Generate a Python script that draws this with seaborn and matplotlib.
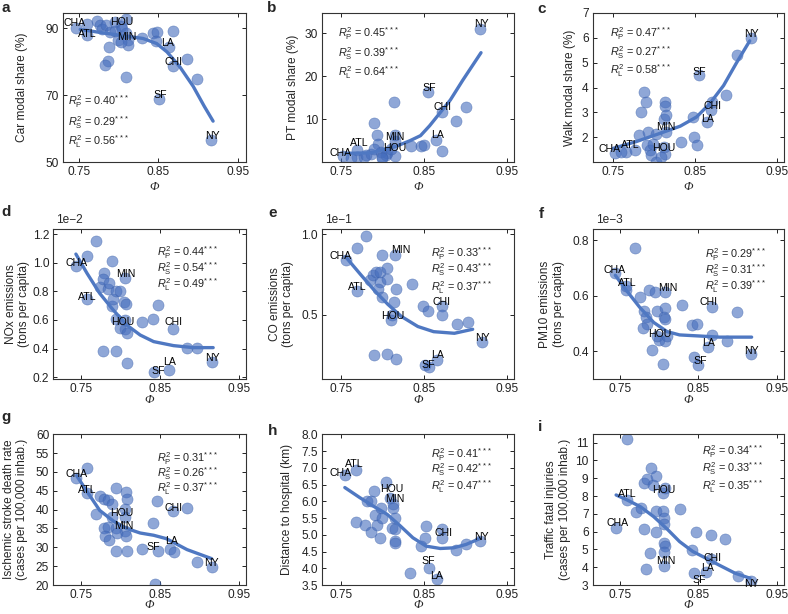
import numpy as np
import pandas as pd
import matplotlib as mpl
mpl.use('Agg')
import matplotlib.pyplot as plt
import seaborn as sns


# The eight labelled cities come first in every panel, in this order.
CITIES = ['CHA', 'ATL', 'HOU', 'MIN', 'LA', 'CHI', 'SF', 'NY']

# a: car modal share (%)
a_phi = [0.747, 0.761, 0.803, 0.812, 0.863, 0.868, 0.851, 0.916,
         0.761, 0.773, 0.777, 0.780, 0.784, 0.789, 0.796, 0.796, 0.799, 0.810, 0.810,
         0.812, 0.810, 0.788, 0.787, 0.783, 0.830, 0.844, 0.849, 0.847, 0.868, 0.886,
         0.899, 0.803, 0.805]
a_car = [90.2, 88.0, 90.8, 86.5, 84.4, 78.9, 69.0, 56.8,
         91.3, 92.3, 91.0, 89.8, 91.0, 89.0, 91.8, 89.2, 86.4, 92.8, 88.6,
         85.0, 75.6, 84.6, 80.4, 79.1, 87.2, 88.7, 89.0, 86.2, 89.2, 80.9,
         75.0, 86.0, 89.8]
a_fit_phi = [0.752, 0.777, 0.810, 0.831, 0.848, 0.861, 0.877, 0.894, 0.908, 0.919]
a_fit = [89.7, 88.8, 87.7, 87.0, 85.5, 83.0, 78.6, 72.7, 66.7, 62.3]

# b: public transport modal share (%)
b_phi = [0.753, 0.769, 0.806, 0.815, 0.865, 0.872, 0.855, 0.918,
         0.769, 0.778, 0.786, 0.790, 0.794, 0.795, 0.798, 0.799, 0.804, 0.814, 0.815,
         0.815, 0.834, 0.847, 0.850, 0.872, 0.889, 0.901, 0.790, 0.780, 0.810, 0.800,
         0.762]
b_pt = [1.5, 2.9, 2.2, 4.9, 5.3, 11.8, 16.4, 30.9,
        1.2, 1.3, 1.9, 9.2, 6.4, 4.3, 2.5, 1.3, 1.7, 14.0, 6.4,
        1.5, 3.8, 3.8, 4.0, 2.7, 9.7, 12.9, 3.0, 1.8, 3.2, 1.0,
        1.0]
b_fit_phi = [0.756, 0.786, 0.815, 0.833, 0.846, 0.857, 0.867, 0.882, 0.897, 0.919]
b_fit = [2.1, 2.2, 3.6, 5.0, 6.2, 8.5, 10.9, 14.5, 19.1, 25.5]

# c: walk modal share (%)
c_phi = [0.752, 0.766, 0.813, 0.814, 0.865, 0.870, 0.855, 0.919,
         0.776, 0.781, 0.784, 0.787, 0.790, 0.791, 0.792, 0.795, 0.796, 0.798, 0.802,
         0.802, 0.812, 0.813, 0.813, 0.814, 0.812, 0.809, 0.833, 0.847, 0.849, 0.852,
         0.871, 0.888, 0.901, 0.760]
c_walk = [1.39, 1.43, 1.35, 2.20, 2.60, 3.10, 4.50, 6.00,
          1.50, 2.10, 3.00, 3.80, 3.40, 1.70, 2.20, 1.50, 1.30, 1.75, 1.00,
          2.15, 2.73, 3.40, 3.25, 2.90, 1.63, 1.20, 1.80, 2.80, 2.00, 1.70,
          3.40, 3.70, 5.30, 1.40]
c_fit_phi = [0.750, 0.778, 0.807, 0.832, 0.852, 0.868, 0.885, 0.901, 0.917]
c_fit = [1.56, 1.83, 2.16, 2.45, 2.82, 3.35, 4.08, 5.00, 5.87]

# d: NOx emissions (1e-2 tons per capita)
d_phi = [0.744, 0.758, 0.806, 0.806, 0.861, 0.866, 0.843, 0.915,
         0.758, 0.769, 0.774, 0.779, 0.778, 0.784, 0.786, 0.790, 0.789, 0.791, 0.795,
         0.795, 0.800, 0.805, 0.807, 0.806, 0.778, 0.795, 0.809, 0.827, 0.841, 0.847,
         0.884, 0.897, 0.808, 0.800]
d_nox = [0.977, 0.747, 0.540, 0.890, 0.250, 0.540, 0.240, 0.310,
         1.047, 1.153, 0.828, 0.930, 0.884, 0.814, 0.860, 1.014, 0.698, 0.744, 0.805,
         0.605, 0.542, 0.728, 0.712, 0.600, 0.386, 0.386, 0.298, 0.588, 0.605, 0.705,
         0.407, 0.402, 0.510, 0.800]
d_fit_phi = [0.744, 0.758, 0.774, 0.791, 0.808, 0.825, 0.842, 0.867, 0.892, 0.917]
d_fit = [1.060, 0.926, 0.786, 0.670, 0.565, 0.495, 0.449, 0.421, 0.407, 0.407]

# e: CO emissions (1e-1 tons per capita)
e_phi = [0.756, 0.770, 0.812, 0.816, 0.866, 0.872, 0.851, 0.920,
         0.770, 0.781, 0.785, 0.789, 0.793, 0.797, 0.797, 0.795, 0.800, 0.800, 0.806,
         0.806, 0.817, 0.814, 0.811, 0.836, 0.849, 0.855, 0.872, 0.890, 0.903, 0.790,
         0.806, 0.817, 0.857]
e_co = [0.842, 0.648, 0.500, 0.869, 0.215, 0.553, 0.188, 0.327,
        0.916, 0.989, 0.717, 0.749, 0.764, 0.764, 0.700, 0.658, 0.610, 0.869, 0.789,
        0.722, 0.658, 0.580, 0.468, 0.690, 0.553, 0.521, 0.500, 0.443, 0.454, 0.251,
        0.257, 0.226, 0.173]
e_fit_phi = [0.756, 0.774, 0.791, 0.807, 0.823, 0.843, 0.862, 0.887, 0.909]
e_fit = [0.859, 0.749, 0.648, 0.563, 0.489, 0.426, 0.394, 0.384, 0.409]

# f: PM10 emissions (1e-3 tons per capita)
f_phi = [0.743, 0.758, 0.800, 0.807, 0.862, 0.867, 0.845, 0.917,
         0.757, 0.769, 0.775, 0.787, 0.795, 0.780, 0.783, 0.784, 0.779, 0.791, 0.797,
         0.807, 0.806, 0.808, 0.797, 0.807, 0.810, 0.805, 0.829, 0.842, 0.848, 0.867,
         0.850, 0.886, 0.899]
f_pm = [0.684, 0.622, 0.440, 0.613, 0.416, 0.561, 0.378, 0.390,
        0.634, 0.772, 0.595, 0.622, 0.613, 0.546, 0.522, 0.500, 0.485, 0.406, 0.546,
        0.556, 0.524, 0.516, 0.455, 0.437, 0.455, 0.354, 0.567, 0.495, 0.500, 0.459,
        0.349, 0.437, 0.540]
f_fit_phi = [0.744, 0.758, 0.775, 0.793, 0.810, 0.826, 0.852, 0.877, 0.918]
f_fit = [0.674, 0.620, 0.559, 0.504, 0.471, 0.459, 0.455, 0.451, 0.451]

# g: ischemic stroke death rate (cases per 100,000 inhab.)
g_phi = [0.744, 0.758, 0.806, 0.806, 0.862, 0.866, 0.848, 0.915,
         0.758, 0.769, 0.774, 0.779, 0.784, 0.790, 0.795, 0.807, 0.808, 0.779, 0.784,
         0.781, 0.786, 0.806, 0.795, 0.796, 0.807, 0.795, 0.808, 0.827, 0.846, 0.841,
         0.867, 0.884, 0.897, 0.844, 0.790]
g_stroke = [48.4, 44.3, 38.0, 34.3, 29.6, 39.6, 29.1, 24.9,
            51.1, 38.9, 43.7, 42.8, 42.5, 41.4, 45.7, 44.8, 42.8, 35.2, 35.4,
            32.9, 32.0, 40.1, 35.0, 33.8, 32.9, 28.9, 28.9, 29.6, 42.3, 36.5,
            28.7, 40.4, 26.1, 20.2, 38.0]
g_fit_phi = [0.745, 0.758, 0.774, 0.791, 0.808, 0.825, 0.842, 0.858, 0.884, 0.915]
g_fit = [49.0, 44.8, 39.8, 37.0, 35.0, 33.8, 33.2, 32.3, 29.4, 27.0]

# h: distance to hospital (km)
h_phi = [0.755, 0.769, 0.810, 0.813, 0.866, 0.872, 0.856, 0.918,
         0.769, 0.779, 0.782, 0.786, 0.790, 0.787, 0.791, 0.794, 0.797, 0.798, 0.800,
         0.805, 0.813, 0.816, 0.812, 0.816, 0.816, 0.815, 0.834, 0.847, 0.851, 0.853,
         0.872, 0.889, 0.901]
h_dist = [6.77, 6.92, 6.10, 5.91, 3.68, 5.16, 4.02, 4.81,
          5.39, 5.29, 6.01, 6.01, 6.31, 5.09, 5.59, 5.29, 4.91, 5.79, 5.51,
          6.59, 5.81, 5.51, 5.21, 5.16, 4.81, 4.76, 3.85, 4.66, 4.89, 5.26,
          4.91, 4.56, 4.71]
h_fit_phi = [0.755, 0.773, 0.789, 0.806, 0.822, 0.837, 0.853, 0.870, 0.886, 0.901, 0.918]
h_fit = [6.41, 6.11, 5.86, 5.61, 5.26, 4.91, 4.66, 4.59, 4.61, 4.71, 4.89]

# i: traffic fatal injuries (cases per 100,000 inhab.)
i_phi = [0.745, 0.759, 0.805, 0.806, 0.860, 0.866, 0.845, 0.917,
         0.759, 0.771, 0.777, 0.780, 0.784, 0.789, 0.792, 0.796, 0.808, 0.780, 0.796,
         0.805, 0.806, 0.806, 0.796, 0.788, 0.783, 0.806, 0.808, 0.806, 0.827, 0.847,
         0.842, 0.866, 0.884, 0.900]
i_traffic = [6.22, 7.78, 8.15, 4.09, 3.75, 4.46, 3.66, 3.25,
             11.19, 7.12, 7.31, 8.72, 8.96, 9.56, 8.62, 9.15, 8.43, 6.13, 7.16,
             7.16, 6.75, 6.41, 5.96, 4.78, 3.90, 5.34, 5.21, 4.84, 7.27, 6.00,
             4.97, 5.81, 5.59, 3.53]
i_fit_phi = [0.745, 0.759, 0.776, 0.793, 0.810, 0.826, 0.843, 0.860, 0.876, 0.897, 0.916]
i_fit = [8.06, 7.78, 7.40, 6.84, 6.15, 5.44, 4.88, 4.50, 4.13, 3.66, 3.38]

# R^2 values (P, S, L) printed in each panel
r2_values = {
    'a': ('0.40', '0.29', '0.56'), 'b': ('0.45', '0.39', '0.64'), 'c': ('0.47', '0.27', '0.58'),
    'd': ('0.44', '0.54', '0.49'), 'e': ('0.33', '0.43', '0.37'), 'f': ('0.29', '0.31', '0.39'),
    'g': ('0.31', '0.26', '0.37'), 'h': ('0.41', '0.42', '0.47'), 'i': ('0.34', '0.33', '0.35'),
}

# where each city name sits relative to its point, in pixels (right, up)
NUDGE = {
    'a': [(-2, 4.3), (0, 1), (1, 4), (-1, 2.7), (-1, 4), (1, 3.3), (1, 4), (1.3, 4)],
    'b': [(-3.3, 3.3), (2.3, 7.3), (7, 4.7), (0, 4.7), (1, 4.3), (1, 4.3), (1, 4), (1.7, 5.3)],
    'c': [(-5.7, 3.7), (4, 6.7), (-1, 5.3), (0, 5.3), (0, 3.3), (1, 4), (0, 3.3), (0, 4)],
    'd': [(0.7, 3.3), (0, 2.3), (-2.7, 6.7), (1, 4.3), (0.7, 7.7), (1.3, 6.7), (4, 1), (0.7, 3.3)],
    'e': [(-5, 3.3), (0, 3.3), (1, -1.7), (5.3, 5), (1, 5.7), (0, 4.3), (3.3, 0.3), (1, 4)],
    'f': [(0, 3), (0.7, 6.7), (0.7, 5.7), (3.3, 4.3), (1, 4), (-3.3, 5), (5.3, -4), (1, 3.3)],
    'g': [(0.7, 4), (0, 3.3), (-3.3, 4.3), (-1, 5), (1.7, 8), (0.7, 3.3), (-5, 3.7), (0, 3.3)],
    'h': [(-4, 2.3), (-1.7, 6), (1.3, 8.7), (2.3, 5), (0, 3.3), (1.7, -3.3), (0, 6.7), (1, 4)],
    'i': [(1.7, 4.3), (0, 5.7), (1, 3.3), (2, 4.7), (1.7, 3.3), (1.7, 0.7), (4.3, -6.7), (1, -3.3)],
}

POINT_COLOR = '#456dbd'
LINE_COLOR = '#4f78c2'
W, H = 788.0, 614.0


def main():

    panels = [
        dict(key='a', x=a_phi, y=a_car, fx=a_fit_phi, fy=a_fit, ylabel='Car modal share (%)',
             box=(62.7, 12.7, 183.0, 149.6), xlim=(0.73, 0.96), ylim=(50, 94.7),
             yticks=[50, 70, 90], yfmt='{:.0f}', ylab_x=22, r2=(0.03, [0.405, 0.265, 0.137]),
             letter=(1, 1), xlab_y=186.7),
        dict(key='b', x=b_phi, y=b_pt, fx=b_fit_phi, fy=b_fit, ylabel='PT modal share (%)',
             box=(322.3, 12.7, 191.7, 149.6), xlim=(0.7275, 0.9588), ylim=(0, 34.8),
             yticks=[10, 20, 30], yfmt='{:.0f}', ylab_x=293.3, r2=(0.083, [0.862, 0.729, 0.599]),
             letter=(267, 1), xlab_y=186.7),
        dict(key='c', x=c_phi, y=c_walk, fx=c_fit_phi, fy=c_fit, ylabel='Walk modal share (%)',
             box=(592.7, 12.7, 191.6, 149.6), xlim=(0.7248, 0.9593), ylim=(1, 7),
             yticks=[2, 3, 4, 5, 6, 7], yfmt='{:.0f}', ylab_x=570, r2=(0.09, [0.862, 0.733, 0.613]),
             letter=(537, 2), xlab_y=186.7),
        dict(key='d', x=d_phi, y=d_nox, fx=d_fit_phi, fy=d_fit, ylabel='NOx emissions\n(tons per capita)',
             box=(53.3, 229.3, 192.4, 149.7), xlim=(0.7155, 0.958), ylim=(0.188, 1.233),
             yticks=[0.2, 0.4, 0.6, 0.8, 1.0, 1.2], yfmt='{:.1f}', ylab_x=17.3,
             r2=(0.537, [0.844, 0.739, 0.628]), letter=(1, 205), xlab_y=400, offset='1e\u22122'),
        dict(key='e', x=e_phi, y=e_co, fx=e_fit_phi, fy=e_fit, ylabel='CO emissions\n(tons per capita)',
             box=(322.0, 229.3, 192.0, 149.7), xlim=(0.7275, 0.9588), ylim=(0.10, 1.03),
             yticks=[0.5, 1.0], yfmt='{:.1f}', ylab_x=281.7,
             r2=(0.566, [0.84, 0.728, 0.613]), letter=(268, 206), xlab_y=400, offset='1e\u22121'),
        dict(key='f', x=f_phi, y=f_pm, fx=f_fit_phi, fy=f_fit, ylabel='PM10 emissions\n(tons per capita)',
             box=(592.7, 229.3, 191.6, 149.7), xlim=(0.7151, 0.9597), ylim=(0.30, 0.84),
             yticks=[0.4, 0.6, 0.8], yfmt='{:.1f}', ylab_x=552,
             r2=(0.586, [0.828, 0.723, 0.616]), letter=(539, 207), xlab_y=400, offset='1e\u22123'),
        dict(key='g', x=g_phi, y=g_stroke, fx=g_fit_phi, fy=g_fit,
             ylabel='Ischemic stroke death rate\n(cases per 100,000 inhab.)',
             box=(53.3, 434.3, 192.4, 150.7), xlim=(0.7155, 0.958), ylim=(20, 60),
             yticks=list(range(20, 61, 5)), yfmt='{:.0f}', ylab_x=15.5,
             r2=(0.537, [0.836, 0.741, 0.642]), letter=(1, 410), xlab_y=605),
        dict(key='h', x=h_phi, y=h_dist, fx=h_fit_phi, fy=h_fit, ylabel='Distance to hospital (km)',
             box=(322.0, 434.3, 192.0, 150.7), xlim=(0.7275, 0.9588), ylim=(3.5, 8.0),
             yticks=[3.5, 4.0, 4.5, 5.0, 5.5, 6.0, 6.5, 7.0, 7.5, 8.0], yfmt='{:.1f}', ylab_x=286.7,
             r2=(0.566, [0.867, 0.763, 0.652]), letter=(268, 424), xlab_y=605),
        dict(key='i', x=i_phi, y=i_traffic, fx=i_fit_phi, fy=i_fit,
             ylabel='Traffic fatal injuries\n(cases per 100,000 inhab.)',
             box=(592.7, 434.3, 191.6, 150.7), xlim=(0.7151, 0.9597), ylim=(3, 11.47),
             yticks=list(range(3, 12)), yfmt='{:.0f}', ylab_x=558,
             r2=(0.569, [0.885, 0.774, 0.652]), letter=(538, 420), xlab_y=605),
    ]

    sns.set_theme(style='ticks')
    plt.rcParams['font.family'] = ['Liberation Sans', 'DejaVu Sans']
    plt.rcParams['mathtext.fontset'] = 'custom'
    plt.rcParams['mathtext.rm'] = 'Liberation Sans'
    plt.rcParams['mathtext.it'] = 'Liberation Sans:italic'

    fig = plt.figure(figsize=(W / 100, H / 100), dpi=100)

    for p in panels:
        left, top, width, height = p['box']
        ax = fig.add_axes([left / W, 1 - (top + height) / H, width / W, height / H])

        data = pd.DataFrame({'phi': p['x'], 'value': p['y']})
        fit = pd.DataFrame({'phi': p['fx'], 'value': p['fy']})

        # Scatter of cities, then the smooth trend on top.
        sns.scatterplot(data=data, x='phi', y='value', ax=ax, s=64, color=POINT_COLOR,
                        alpha=0.6, edgecolor='#3a5fa8', linewidth=0.4, zorder=2)
        sns.lineplot(data=fit, x='phi', y='value', ax=ax, color=LINE_COLOR, lw=2.4,
                     estimator=None, zorder=3)

        # City names for the labelled points.
        for name, xv, yv, (dx, dy) in zip(CITIES, p['x'][:8], p['y'][:8], NUDGE[p['key']]):
            ax.annotate(name, (xv, yv), xytext=(dx * 0.72, dy * 0.72), textcoords='offset points',
                        ha='center', va='center', fontsize=7.6, color='black', zorder=4)

        # R^2 annotations.
        rx, rys = p['r2']
        for sub, val, ry in zip(['P', 'S', 'L'], r2_values[p['key']], rys):
            ax.text(rx, ry, r'$R^2_{\mathrm{%s}}$ = %s$^{***}$' % (sub, val), transform=ax.transAxes,
                    fontsize=7.8, ha='left', va='center', color='#222222')

        ax.set_xlim(*p['xlim'])
        ax.set_ylim(*p['ylim'])
        ax.set_xticks([0.75, 0.85, 0.95])
        ax.set_xticklabels(['0.75', '0.85', '0.95'])
        ax.set_yticks(p['yticks'])
        ax.set_yticklabels([p['yfmt'].format(v) for v in p['yticks']])
        ax.tick_params(direction='in', top=True, right=True, length=3, width=0.7,
                       labelsize=8.6, pad=3, colors='#222222')
        for spine in ax.spines.values():
            spine.set_visible(True)
            spine.set_linewidth(0.8)
            spine.set_color('#333333')

        ax.set_xlabel('\u03a6', fontsize=9, family='Liberation Serif', style='italic', va='center')
        ax.xaxis.set_label_coords(0.5, -(p['xlab_y'] - (top + height)) / height)
        ax.set_ylabel(p['ylabel'], fontsize=8.6, va='center', linespacing=1.15)
        ax.yaxis.set_label_coords((p['ylab_x'] - left) / width, 0.5)

        if 'offset' in p:
            ax.text(0.015, 1.025, p['offset'], transform=ax.transAxes, ha='left', va='bottom',
                    fontsize=8.6)

        lx, ly = p['letter']
        fig.text(lx / W, 1 - ly / H, p['key'], fontsize=11, fontweight='bold', ha='left', va='top')

    plt.savefig('out.png', dpi=100)


if __name__ == '__main__':
    main()
